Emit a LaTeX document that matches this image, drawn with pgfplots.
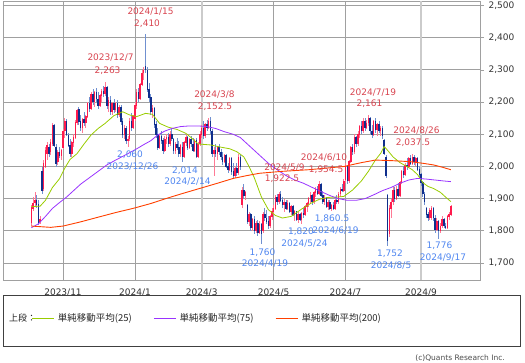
\documentclass[border=0pt]{standalone}
\usepackage{pgfplots}
\usepackage{pgfplotstable}
\pgfplotsset{compat=1.18}
\usepackage{fontspec}
\setmainfont{DejaVu Sans}
\newfontfamily\cjk{Noto Sans CJK JP}
\definecolor{upbody}{HTML}{FF1A4D}
\definecolor{upwick}{HTML}{FF7A95}
\definecolor{dnbody}{HTML}{0F2E8C}
\definecolor{dnwick}{HTML}{7090D0}
\definecolor{maA}{HTML}{99CC00}
\definecolor{maB}{HTML}{9933FF}
\definecolor{maC}{HTML}{FF4000}
\definecolor{lblred}{HTML}{D8444F}
\definecolor{lblblue}{HTML}{4F86F0}
\definecolor{gridc}{HTML}{A0A0A0}

\pgfplotstableread{
t o h l c
-18 1825 1880 1815 1872
-17 1870 1905 1862 1885
-16 1888 1920 1875 1895
-15 1895 1912 1870 1880
-14 1882 1895 1818 1825
-13 1828 1845 1820 1835
-12 1985 2000 1915 1925
-11 1930 2020 1925 2010
-10 2000 2060 1995 2050
-9 2040 2075 2020 2065
-8 2060 2070 2030 2040
-7 2045 2085 2035 2075
-6 2070 2135 2065 2128
-5 2128 2132 2060 2065
-4 2060 2070 2000 2010
-3 2015 2050 2005 2045
-2 2045 2060 2025 2035
-1 2035 2055 2020 2050
0 2060 2118 2055 2110
1 2110 2150 2090 2140
2 2140 2148 2095 2100
3 2098 2105 2060 2065
4 2065 2085 2030 2040
5 2040 2080 2030 2075
6 2075 2100 2060 2090
7 2090 2145 2085 2138
8 2135 2180 2130 2175
9 2178 2185 2130 2140
10 2140 2160 2110 2120
11 2120 2150 2105 2145
12 2145 2170 2125 2135
13 2135 2160 2120 2155
14 2155 2200 2150 2195
15 2195 2215 2170 2180
16 2180 2230 2175 2225
17 2225 2240 2190 2200
18 2200 2235 2185 2230
19 2230 2245 2200 2210
20 2210 2230 2180 2190
21 2190 2225 2185 2220
22 2220 2240 2200 2235
23 2235 2250 2215 2225
24 2225 2263 2220 2245
25 2245 2250 2180 2190
26 2190 2215 2170 2205
27 2205 2220 2160 2170
28 2170 2200 2160 2195
29 2195 2210 2165 2175
30 2175 2200 2170 2195
31 2195 2205 2150 2160
32 2160 2190 2155 2185
33 2185 2190 2130 2140
34 2140 2150 2090 2100
35 2100 2130 2085 2120
36 2120 2125 2070 2080
37 2080 2095 2060 2085
38 2085 2150 2080 2140
39 2140 2165 2110 2120
40 2120 2160 2115 2155
41 2150 2200 2140 2190
42 2190 2240 2180 2230
43 2230 2245 2200 2210
44 2210 2260 2205 2255
45 2255 2300 2250 2290
46 2290 2310 2270 2300
47 2310 2410 2290 2300
48 2300 2310 2230 2240
49 2240 2260 2200 2215
50 2215 2225 2160 2170
51 2170 2190 2150 2180
52 2180 2185 2120 2130
53 2130 2140 2090 2100
54 2100 2120 2050 2060
55 2060 2100 2055 2095
56 2095 2110 2070 2080
57 2080 2090 2040 2050
58 2050 2095 2045 2085
59 2085 2100 2070 2090
60 2090 2105 2060 2070
61 2070 2110 2065 2100
62 2100 2115 2080 2085
63 2085 2090 2040 2050
64 2050 2075 2040 2070
65 2070 2090 2050 2060
66 2060 2080 2030 2040
67 2040 2070 2030 2065
68 2060 2075 2014 2030
69 2030 2080 2025 2075
70 2075 2100 2065 2090
71 2090 2095 2050 2060
72 2060 2090 2055 2085
73 2085 2095 2060 2070
74 2070 2090 2045 2050
75 2050 2085 2045 2080
76 2080 2090 2025 2030
77 2030 2075 2025 2070
78 2070 2110 2065 2100
79 2100 2130 2090 2120
80 2120 2140 2085 2095
81 2095 2135 2090 2130
82 2130 2145 2110 2120
83 2120 2150 2115 2140
84 2140 2152.5 2100 2110
85 2110 2115 2030 2040
86 2040 2060 1970 2050
87 2050 2070 2030 2040
88 2040 2065 2020 2060
89 2060 2070 2035 2045
90 2045 2055 2020 2030
91 2030 2045 2005 2015
92 2015 2040 2010 2035
93 2035 2040 1995 2000
94 2000 2010 1980 1990
95 1990 2030 1985 2025
96 2025 2030 1975 1985
97 1985 2010 1960 1970
98 1970 2000 1965 1995
99 1995 2010 1970 1980
100 1980 2040 1975 2030
101 2030 2035 1990 2000
102 1880 1935 1870 1925
103 1925 1945 1900 1910
104 1910 1925 1895 1920
105 1880 1885 1820 1830
106 1830 1860 1815 1850
107 1850 1855 1800 1810
108 1810 1840 1800 1835
109 1835 1845 1790 1800
110 1800 1830 1795 1825
111 1825 1835 1785 1795
112 1795 1830 1790 1820
113 1820 1825 1760 1790
114 1800 1860 1795 1850
115 1850 1870 1830 1840
116 1840 1865 1820 1830
117 1830 1845 1805 1815
118 1815 1850 1810 1845
119 1845 1870 1835 1860
120 1860 1880 1850 1870
121 1870 1910 1865 1905
122 1905 1915 1880 1890
123 1890 1920 1885 1915
124 1915 1922.5 1890 1895
125 1895 1905 1870 1880
126 1880 1900 1860 1890
127 1890 1895 1865 1870
128 1870 1895 1865 1885
129 1885 1890 1855 1860
130 1860 1880 1850 1875
131 1875 1880 1845 1850
132 1850 1865 1830 1860
133 1860 1862 1830 1835
134 1835 1860 1825 1850
135 1850 1855 1830 1835
136 1835 1860 1820 1855
137 1855 1870 1840 1850
138 1850 1880 1845 1875
139 1875 1890 1860 1885
140 1885 1905 1875 1900
141 1900 1920 1885 1910
142 1910 1915 1880 1890
143 1890 1925 1885 1920
144 1920 1935 1905 1930
145 1930 1940 1910 1915
146 1915 1954.5 1910 1945
147 1945 1950 1905 1910
148 1910 1925 1885 1890
149 1890 1910 1880 1900
150 1900 1905 1870 1875
151 1875 1895 1865 1890
152 1890 1895 1865 1870
153 1870 1885 1860.5 1880
154 1880 1890 1865 1870
155 1870 1900 1865 1895
156 1895 1910 1885 1890
157 1890 1920 1885 1915
158 1915 1935 1905 1930
159 1930 1945 1920 1925
160 1925 1960 1920 1955
161 1960 2010 1950 2000
162 2000 2005 1945 1955
163 1955 2020 1950 2015
164 2015 2065 2010 2060
165 2060 2070 2035 2045
166 2045 2100 2040 2090
167 2090 2095 2060 2070
168 2070 2110 2065 2100
169 2100 2130 2090 2125
170 2125 2140 2100 2110
171 2110 2150 2105 2140
172 2140 2150 2110 2120
173 2120 2145 2115 2135
174 2135 2161 2125 2150
175 2150 2155 2100 2110
176 2110 2130 2090 2100
177 2100 2145 2095 2140
178 2140 2150 2105 2115
179 2115 2135 2095 2130
180 2130 2140 2105 2110
181 2110 2125 2095 2120
182 2120 2125 2085 2095
183 2080 2085 2035 2040
184 2030 2035 1965 1970
185 1910 1915 1752 1770
186 1790 1880 1780 1870
187 1870 1900 1840 1890
188 1890 1935 1880 1925
189 1925 1935 1890 1900
190 1900 1940 1895 1930
191 1930 1950 1905 1910
192 1910 1955 1905 1950
193 1950 1990 1945 1985
194 1985 2000 1965 1975
195 1975 2010 1970 2005
196 2005 2025 1990 2000
197 2000 2030 1995 2025
198 2025 2035 2005 2010
199 2010 2037.5 2005 2030
200 2030 2035 2005 2015
201 2015 2030 2000 2025
202 2025 2030 1985 1990
203 1990 2000 1965 1975
204 1975 1980 1940 1950
205 1950 1955 1905 1915
206 1915 1920 1880 1890
207 1870 1875 1840 1850
208 1850 1860 1830 1840
209 1840 1870 1835 1865
210 1840 1878 1835 1870
211 1870 1875 1830 1840
212 1840 1850 1795 1805
213 1805 1840 1800 1830
214 1830 1835 1776 1800
215 1800 1825 1795 1815
216 1815 1845 1810 1835
217 1835 1840 1810 1815
218 1815 1825 1805 1810
219 1810 1850 1805 1845
220 1845 1860 1835 1850
221 1850 1880 1845 1875
}\candles

\pgfplotstableread{
t v
-18 1875
-13 1877
-10 1895
-6 1935
-2 1962
1 1995
4 2022
8 2040
12 2070
16 2098
20 2118
24 2134
29 2158
34 2170
38 2160
42 2155
47 2165
51 2162
55 2134
60 2122
65 2115
70 2103
74 2085
77 2070
84 2067
90 2060
95 2055
99 2046
103 2030
106 2000
109 1965
113 1906
117 1866
121 1848
125 1840
130 1845
136 1868
141 1885
146 1898
151 1904
156 1905
160 1907
165 1927
170 1955
174 1985
178 2020
181 2041
183 2062
185 2050
188 2030
192 2012
196 2000
199 1990
202 1975
205 1950
208 1938
211 1932
215 1920
218 1905
221 1891
}\maA

\pgfplotstableread{
t v
-18 1810
-14 1822
-10 1845
-6 1870
-2 1888
2 1905
6 1925
10 1945
15 1965
20 1985
25 2005
30 2020
37 2040
42 2055
46 2068
50 2080
54 2098
58 2110
62 2118
67 2124
72 2126
77 2126
82 2124
87 2118
92 2108
97 2100
101 2090
104 2075
108 2055
112 2035
117 2010
122 1990
127 1972
132 1958
137 1948
142 1935
147 1922
152 1910
157 1900
162 1895
167 1895
172 1900
177 1912
182 1925
187 1935
192 1948
197 1958
202 1963
207 1961
212 1958
217 1955
221 1953
}\maB

\pgfplotstableread{
t v
-18 1815
-7 1811
0 1815
10 1828
21 1844
30 1857
40 1870
50 1885
59 1901
68 1916
78 1932
88 1948
97 1963
105 1972
112 1979
125 1985
140 1990
150 1995
160 2000
170 2012
178 2020
188 2018
198 2015
205 2010
211 2005
216 1998
221 1990
}\maC

\pgfplotsset{
  candle/.style 2 args={color=#1, draw=none, mark=none, forget plot,
    mark options={draw=none, fill=none},
    error bars/y dir=both, error bars/y explicit, error bars/error mark=none,
    error bars/error bar style={draw=#1, line width=#2, solid}},
}

\begin{document}
\begin{tikzpicture}[x=1pt,y=1pt]
\useasboundingbox (0,0) rectangle (525,362);
\begin{axis}[
  at={(3pt,82pt)}, anchor=south west,
  scale only axis, width=477pt, height=279pt,
  xmin=-34.2, xmax=237.6, ymin=1647.5, ymax=2514,
  xtick={0,41,120,161},
  xticklabels={2023/11,2024/1,2024/5,2024/7},
  extra x ticks={79,204},
  extra x tick labels={2024/3,2024/9},
  extra x tick style={grid=major, major grid style={gridc!55, line width=1.8pt}},
  ytick={1700,1800,1900,2000,2100,2200,2300,2400,2500},
  ytick pos=right, yticklabel pos=right,
  tick align=outside, major tick length=4pt,
  xtick style={draw=none},
  ytick style={gridc, line width=0.8pt},
  grid=major,
  major grid style={gridc, line width=0.9pt},
  axis line style={gridc, line width=0.9pt},
  tick label style={font=\fontsize{9}{10}\selectfont, text=black!80},
  /pgf/number format/assume math mode=true,
  /pgf/number format/.cd, 1000 sep={,}, /pgfplots/.cd,
  yticklabel style={xshift=1pt},
  xticklabel style={yshift=-1pt},
  clip=true,
  legend style={at={(axis description cs:0.0597,-0.1373)}, anchor=west,
    draw=none, fill=none, inner sep=0pt, legend columns=3,
    font=\cjk\fontsize{9.5}{10}\selectfont, text=black!85,
    nodes={inner xsep=3.5pt, inner ysep=0pt},
    /tikz/every even column/.append style={column sep=18pt}},
  legend image code/.code={\draw[#1] (0pt,0pt) -- (22pt,0pt);},
]
% wicks
\addplot[candle={upwick}{0.7pt},
  restrict expr to domain={\thisrow{c}-\thisrow{o}}{0:1000}]
  table[x=t, y expr={(\thisrow{h}+\thisrow{l})/2}, y error expr={(\thisrow{h}-\thisrow{l})/2}] {\candles};
\addplot[candle={dnwick}{0.7pt},
  restrict expr to domain={\thisrow{c}-\thisrow{o}}{-1000:-0.01}]
  table[x=t, y expr={(\thisrow{h}+\thisrow{l})/2}, y error expr={(\thisrow{h}-\thisrow{l})/2}] {\candles};
% bodies
\addplot[candle={upbody}{1.5pt},
  restrict expr to domain={\thisrow{c}-\thisrow{o}}{0:1000}]
  table[x=t, y expr={(\thisrow{o}+\thisrow{c})/2}, y error expr={(\thisrow{c}-\thisrow{o})/2+1}] {\candles};
\addplot[candle={dnbody}{1.5pt},
  restrict expr to domain={\thisrow{c}-\thisrow{o}}{-1000:-0.01}]
  table[x=t, y expr={(\thisrow{o}+\thisrow{c})/2}, y error expr={(\thisrow{o}-\thisrow{c})/2+1}] {\candles};
% moving averages
\addplot[maA, line width=0.8pt] table[x=t, y=v] {\maA};
\addlegendentry{単純移動平均(25)}
\addplot[maB, line width=0.8pt] table[x=t, y=v] {\maB};
\addlegendentry{単純移動平均(75)}
\addplot[maC, line width=0.9pt] table[x=t, y=v] {\maC};
\addlegendentry{単純移動平均(200)}
% annotations
\begin{scope}[every node/.style={font=\fontsize{9}{10}\selectfont, inner sep=0pt}]
\node[lblred] at (axis cs:49.9,2481) {2024/1/15};
\node[lblred] at (axis cs:47.9,2444) {2,410};
\node[lblred] at (axis cs:27.1,2337) {2023/12/7};
\node[lblred] at (axis cs:25.4,2298) {2,263};
\node[lblred] at (axis cs:86.3,2224) {2024/3/8};
\node[lblred] at (axis cs:86.6,2186) {2,152.5};
\node[lblred] at (axis cs:176.6,2231) {2024/7/19};
\node[lblred] at (axis cs:174.6,2196) {2,161};
\node[lblred] at (axis cs:201.4,2112) {2024/8/26};
\node[lblred] at (axis cs:199.4,2074) {2,037.5};
\node[lblred] at (axis cs:148.7,2028) {2024/6/10};
\node[lblred] at (axis cs:149.9,1991) {1,954.5};
\node[lblred] at (axis cs:126.2,1997) {2024/5/9};
\node[lblred] at (axis cs:124.8,1963) {1,922.5};
\node[lblblue] at (axis cs:38.2,2037) {2,060};
\node[lblblue] at (axis cs:39.6,2000) {2023/12/26};
\node[lblblue] at (axis cs:69.5,1986) {2,014};
\node[lblblue] at (axis cs:70.9,1952) {2024/2/14};
\node[lblblue] at (axis cs:113.7,1733) {1,760};
\node[lblblue] at (axis cs:115.1,1697) {2024/4/19};
\node[lblblue] at (axis cs:135.6,1799) {1,820};
\node[lblblue] at (axis cs:137.6,1761) {2024/5/24};
\node[lblblue] at (axis cs:153.3,1837) {1,860.5};
\node[lblblue] at (axis cs:155.3,1801) {2024/6/19};
\node[lblblue] at (axis cs:186.3,1728) {1,752};
\node[lblblue] at (axis cs:186.9,1691) {2024/8/5};
\node[lblblue] at (axis cs:214.5,1753) {1,776};
\node[lblblue] at (axis cs:216.5,1716) {2024/9/17};
\end{scope}
\end{axis}
\draw[black!75, line width=0.8pt] (3,15.3) rectangle (520,67);
\node[anchor=west, inner sep=0pt, font=\cjk\fontsize{9}{10}\selectfont, text=black!85] at (9,43.7) {上段：};
\node[anchor=east, inner sep=0pt, font=\fontsize{7.5}{8}\selectfont, text=black!70] at (505,4) {(c)Quants Research Inc.};
\end{tikzpicture}
\end{document}
